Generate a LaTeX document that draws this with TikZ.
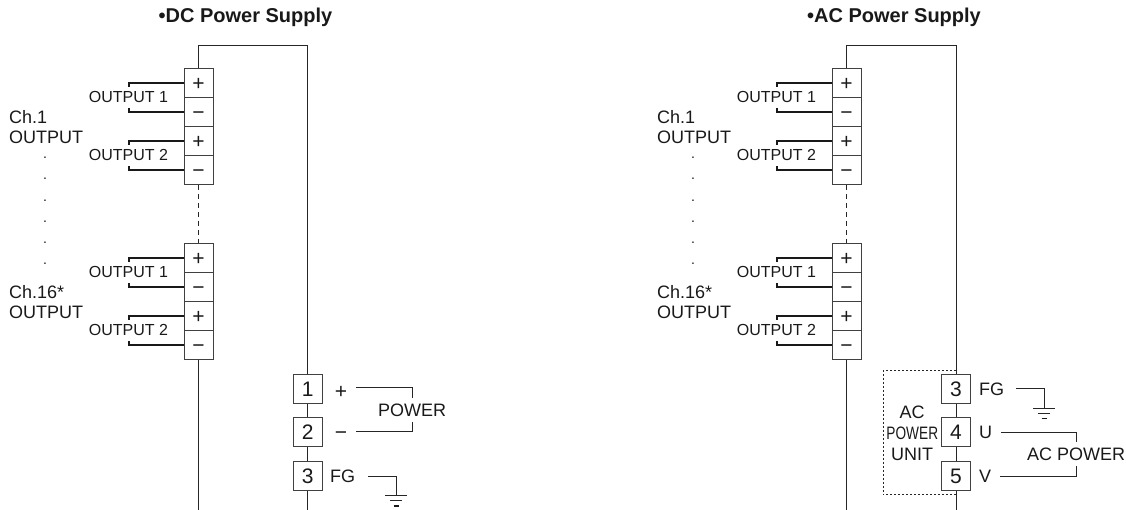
\documentclass[tikz,border=0pt]{standalone}
\usepackage{fontspec}
\setmainfont{Liberation Sans}
\usetikzlibrary{positioning}

\begin{document}
\begin{tikzpicture}[x=1pt, y=1pt, node distance=29pt, on grid,
	cell/.style={rectangle, draw=black!75, line width=1pt, minimum size=29pt, inner sep=0pt, text height=15pt, text depth=0pt, font=\fontsize{21}{23}\selectfont, text=black!90},
	txt/.style={inner sep=0pt, font=\fontsize{18}{20}\selectfont, text=black!90},
	sign/.style={inner sep=0pt, text height=15pt, text depth=0pt, font=\fontsize{21}{23}\selectfont, text=black!90},
	outlabel/.style={inner sep=0pt, font=\fontsize{16}{18}\selectfont, text=black!90},
	title/.style={inner sep=0pt, font=\fontsize{20}{22}\selectfont\bfseries, text=black!90},
	wire/.style={draw=black!85, line width=1pt},
	lead/.style={draw=black!90, line width=1.5pt},
	link/.style={wire, dash pattern=on 5pt off 4pt},
	unit/.style={wire, dash pattern=on 2pt off 2pt}]
\useasboundingbox (0,0) rectangle (1126,510);

% DC nodes
\node[title] (Dtitle) at (245.5,493) {•DC Power Supply};
\node[cell] (D1p) at (198.5,427) {+};
\node[cell, below=of D1p] (D1m) {−};
\node[cell, below=of D1m] (D2p) {+};
\node[cell, below=of D2p] (D2m) {−};
\node[cell] (E1p) at (198.5,252) {+};
\node[cell, below=of E1p] (E1m) {−};
\node[cell, below=of E1m] (E2p) {+};
\node[cell, below=of E2p] (E2m) {−};
\node[cell] (DT1) at (307.7,121.2) {1};
\node[cell, below=43.5pt of DT1] (DT2) {2};
\node[cell, below=43.5pt of DT2] (DT3) {3};

\coordinate (Dcl) at (198.5,464);
\coordinate (Dcr) at (307.7,464);
\coordinate (Dbl) at (198.5,0);
\coordinate (Dbr) at (307.7,0);
\coordinate (D1pe) at (129,423);
\coordinate (D1me) at (129,402);
\coordinate (D2pe) at (129,365);
\coordinate (D2me) at (129,344);
\coordinate (E1pe) at (129,248);
\coordinate (E1me) at (129,227);
\coordinate (E2pe) at (129,190);
\coordinate (E2me) at (129,169);
\coordinate (Dgnd) at (396,14);

\node[outlabel] (Dout1) at (128.5,413) {OUTPUT 1};
\node[outlabel] (Dout2) at (128.5,354.5) {OUTPUT 2};
\node[outlabel] (Dout3) at (128.5,238.5) {OUTPUT 1};
\node[outlabel] (Dout4) at (128.5,180) {OUTPUT 2};
\node[txt, align=left, anchor=west] (Dch1) at (9,383) {Ch.1\\OUTPUT};
\node[txt, align=left, anchor=west] (Dch16) at (9,208) {Ch.16*\\OUTPUT};
\node[txt, align=center, font=\fontsize{14}{21.2}\selectfont] (Ddots) at (45,299) {.\\.\\.\\.\\.\\.};
\node[sign] (Dplus) at (341,119) {+};
\node[sign] (Dminus) at (341,78) {−};
\node[txt, anchor=west] (Dfg) at (330,33.5) {FG};
\node[txt, inner ysep=5.5pt] (Dpower) at (412,100) {POWER};

% DC connections
\draw[wire] (D1p.north) -- (Dcl) -- (Dcr) -- (DT1.north);
\draw[link] (D2m.south) -- (E1p.north);
\draw[wire] (E2m.south) -- (Dbl);
\draw[wire] (DT1.south) -- (DT2.north);
\draw[wire] (DT2.south) -- (DT3.north);
\draw[wire] (DT3.south) -- (Dbr);
\draw[lead] (D1p.west) -| (D1pe);
\draw[lead] (D1m.west) -| (D1me);
\draw[lead] (D2p.west) -| (D2pe);
\draw[lead] (D2m.west) -| (D2me);
\draw[lead] (E1p.west) -| (E1pe);
\draw[lead] (E1m.west) -| (E1me);
\draw[lead] (E2p.west) -| (E2pe);
\draw[lead] (E2m.west) -| (E2me);
\draw[wire, shorten <=9pt] ([yshift=3pt]Dplus.east) -| (Dpower.north);
\draw[wire, shorten <=9pt] (Dminus.east) -| (Dpower.south);
\draw[wire, shorten <=13pt] (Dfg.east) -| (Dgnd);
\draw[wire] ([xshift=-11pt]Dgnd) -- ([xshift=11pt]Dgnd);
\draw[wire] ([shift={(-6pt,-5pt)}]Dgnd) -- ([shift={(6pt,-5pt)}]Dgnd);
\draw[lead] ([shift={(-2.5pt,-10pt)}]Dgnd) -- ([shift={(2.5pt,-10pt)}]Dgnd);

% AC nodes
\node[title] (Atitle) at (894,493) {•AC Power Supply};
\node[cell] (A1p) at (846.5,427) {+};
\node[cell, below=of A1p] (A1m) {−};
\node[cell, below=of A1m] (A2p) {+};
\node[cell, below=of A2p] (A2m) {−};
\node[cell] (B1p) at (846.5,252) {+};
\node[cell, below=of B1p] (B1m) {−};
\node[cell, below=of B1m] (B2p) {+};
\node[cell, below=of B2p] (B2m) {−};
\node[cell] (AT3) at (956,121.2) {3};
\node[cell, below=43.5pt of AT3] (AT4) {4};
\node[cell, below=43.5pt of AT4] (AT5) {5};

\coordinate (Acl) at (846.5,464);
\coordinate (Acr) at (956,464);
\coordinate (Abl) at (846.5,0);
\coordinate (Abr) at (956,0);
\coordinate (A1pe) at (777,423);
\coordinate (A1me) at (777,402);
\coordinate (A2pe) at (777,365);
\coordinate (A2me) at (777,344);
\coordinate (B1pe) at (777,248);
\coordinate (B1me) at (777,227);
\coordinate (B2pe) at (777,190);
\coordinate (B2me) at (777,169);
\coordinate (Agnd) at (1044,101.3);
\coordinate (Utop) at (956,139.3);
\coordinate (Uleft) at (883,77.5);
\coordinate (Ubot) at (956,15.7);

\node[outlabel] (Aout1) at (776.5,413) {OUTPUT 1};
\node[outlabel] (Aout2) at (776.5,354.5) {OUTPUT 2};
\node[outlabel] (Aout3) at (776.5,238.5) {OUTPUT 1};
\node[outlabel] (Aout4) at (776.5,180) {OUTPUT 2};
\node[txt, align=left, anchor=west] (Ach1) at (657,383) {Ch.1\\OUTPUT};
\node[txt, align=left, anchor=west] (Ach16) at (657,208) {Ch.16*\\OUTPUT};
\node[txt, align=center, font=\fontsize{14}{21.2}\selectfont] (Adots) at (693,299) {.\\.\\.\\.\\.\\.};
\node[txt, anchor=west] (Afg) at (979,121) {FG};
\node[txt, anchor=west] (Au) at (979,77.5) {U};
\node[txt, anchor=west] (Av) at (979,33.5) {V};
\node[txt, inner ysep=5pt] (Apower) at (1076,56) {AC POWER};
\node[txt] (Uac) at (912,97.5) {AC};
\node[txt, xscale=.76] (Upower) at (912.3,77) {POWER};
\node[txt] (Uname) at (912,56) {UNIT};

% AC connections
\draw[wire] (A1p.north) -- (Acl) -- (Acr) -- (AT3.north);
\draw[link] (A2m.south) -- (B1p.north);
\draw[wire] (B2m.south) -- (Abl);
\draw[wire] (AT3.south) -- (AT4.north);
\draw[wire] (AT4.south) -- (AT5.north);
\draw[wire] (AT5.south) -- (Abr);
\draw[lead] (A1p.west) -| (A1pe);
\draw[lead] (A1m.west) -| (A1me);
\draw[lead] (A2p.west) -| (A2pe);
\draw[lead] (A2m.west) -| (A2me);
\draw[lead] (B1p.west) -| (B1pe);
\draw[lead] (B1m.west) -| (B1me);
\draw[lead] (B2p.west) -| (B2pe);
\draw[lead] (B2m.west) -| (B2me);
\draw[unit] (Utop) -| (Uleft) |- (Ubot);
\draw[wire, shorten <=12pt] (Afg.east) -| (Agnd);
\draw[wire, shorten <=9pt] (Au.east) -| (Apower.north);
\draw[wire, shorten <=9pt] (Av.east) -| (Apower.south);
\draw[wire] ([xshift=-11pt]Agnd) -- ([xshift=11pt]Agnd);
\draw[wire] ([shift={(-6pt,-5pt)}]Agnd) -- ([shift={(6pt,-5pt)}]Agnd);
\draw[lead] ([shift={(-2.5pt,-10pt)}]Agnd) -- ([shift={(2.5pt,-10pt)}]Agnd);
\end{tikzpicture}
\end{document}
